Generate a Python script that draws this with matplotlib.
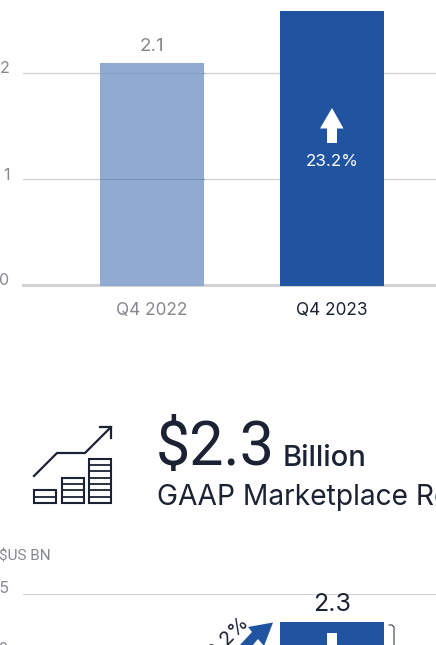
import matplotlib
matplotlib.use("Agg")
import matplotlib.pyplot as plt
from matplotlib.patches import Polygon, Rectangle

W = 436
H = 645

quarters = ["Q4 2022", "Q4 2023"]
revenue_top = [2.095, 2.585]
top_labels = ["2.1", "2.6"]
top_ticks = [0, 1, 2]
growth_label = "23.2%"

revenue_bottom = [2.27]
bottom_ticks = [2.0, 2.5]

BLUE = "#2154a0"
LIGHT = "#91aad2"
NAVY = "#1a2233"
GREY = "#85888d"
GRID = "#d2d3d5"

plt.rcParams["font.family"] = ["Inter", "DejaVu Sans"]

fig = plt.figure(figsize=(W / 100, H / 100), dpi=100)
page = fig.add_axes([0, 0, 1, 1], zorder=5)
page.set_xlim(0, W)
page.set_ylim(H, 0)
page.axis("off")

# top chart
ax = fig.add_axes([23 / W, (H - 285) / H, (W - 23) / W, 285 / H])
ax.set_xlim(-0.7167, 1.578)
ax.set_ylim(0, 285 / 106)
for s in ax.spines.values():
    s.set_visible(False)
ax.set_yticks(top_ticks[1:])
ax.set_yticklabels([])
ax.set_xticks([])
ax.tick_params(length=0)
ax.grid(axis="y", color=GRID, lw=1)
ax.set_axisbelow(True)
ax.axhline(0, color=GRID, lw=2.2, zorder=1, clip_on=False)
ax.bar([0], revenue_top[0] + 0.01, bottom=-0.01, width=0.578, color=LIGHT, zorder=3, clip_on=False)
ax.bar([1], revenue_top[1] + 0.01, bottom=-0.01, width=0.578, color=BLUE, zorder=3, clip_on=False)
# gridlines show through the pale bar
ax.plot([-0.289, 0.289], [1, 1], color="#7b93ba", lw=0.8, zorder=4)
ax.plot([-0.289, 0.289], [2, 2], color="#86a0c8", lw=0.8, zorder=4)
ax.text(0, revenue_top[0] + 0.075, top_labels[0], ha="center", va="bottom", fontsize=13.5, color=GREY)
ax.text(1, revenue_top[1] + 0.075, top_labels[1], ha="center", va="bottom", fontsize=13.5,
        color=GREY, clip_on=False)

for v, y in zip(top_ticks, [280.5, 175, 68.5]):
    page.text(9.5, y, str(v), ha="right", va="center", fontsize=11.5, color=GREY)
page.text(152, 310, quarters[0], ha="center", va="center", fontsize=12.4, color=GREY)
page.text(332, 310, quarters[1], ha="center", va="center", fontsize=12.4, color=NAVY)

# white arrow inside the bar
page.add_patch(Polygon([(332, 108), (343.5, 128.5), (337, 128.5), (337, 143),
                        (327, 143), (327, 128.5), (320, 128.5)], color="white", lw=0))
page.text(332, 162, growth_label, ha="center", va="center", fontsize=12.2, color="white")

# headline
page.text(156, 465, "$2.3", ha="left", va="baseline", fontsize=44, color=NAVY,
          family=["Roboto", "DejaVu Sans"])
page.text(283, 466, "Billion", ha="left", va="baseline", fontsize=21, color=NAVY,
          fontweight="medium")
page.text(157, 505, "GAAP Marketplace Revenue", ha="left", va="baseline", fontsize=20.3,
          color=NAVY)

# icon
page.plot([34, 57, 85, 111], [476, 453, 453, 427], color=NAVY, lw=1.6)
page.plot([100, 111, 111], [427, 427, 438], color=NAVY, lw=1.6)
for x0, x1, ys in [(34, 56, [490, 496.5, 503]),
                   (62, 84, [478, 484, 490, 496.5, 503]),
                   (89, 111, [459, 465, 471, 478, 484, 490, 496.5, 503])]:
    page.add_patch(Rectangle((x0, ys[0]), x1 - x0, ys[-1] - ys[0], fill=False,
                             ec=NAVY, lw=1.5))
    for y in ys[1:-1]:
        page.plot([x0, x1], [y, y], color=NAVY, lw=1.3)

# bottom chart
page.text(-1, 557, "$US BN", ha="left", va="center", fontsize=11, color=GREY,
          family=["Roboto", "DejaVu Sans"])
ax2 = fig.add_axes([23 / W, 0, (W - 23) / W, (H - 593.5) / H])
ax2.set_xlim(-0.7167, 1.578)
ax2.set_ylim(2.5 - 51.5 / 122, 2.5)
for s in ax2.spines.values():
    s.set_visible(False)
ax2.set_xticks([])
ax2.set_yticks([])
ax2.plot([-0.7167, 1.578], [bottom_ticks[1]] * 2, color=GRID, lw=1.6)
ax2.bar([1], revenue_bottom, width=0.578, color=BLUE, zorder=3)
page.text(9.5, 588.5, f"{bottom_ticks[1]:.1f}", ha="right", va="center", fontsize=11.5, color=GREY)
page.text(9.5, 650, f"{bottom_ticks[0]:.1f}", ha="right", va="center", fontsize=11.5, color=GREY)
page.text(332, 604.5, "2.3", ha="center", va="center", fontsize=18, color=NAVY)

page.add_patch(Polygon([(327, 633), (337, 633), (337, 646), (327, 646)], color="white", lw=0))
page.add_patch(Polygon([(273, 622.5), (264, 646), (258, 639), (252, 646), (239, 646),
                        (252, 632), (248, 627)], color=BLUE, lw=0))
page.text(224, 641, growth_label, ha="center", va="center", fontsize=14.5, rotation=45,
          rotation_mode="anchor", color=NAVY)
page.plot([389, 392, 394, 394], [625, 625, 627, 646], color=NAVY, lw=0.7)

fig.savefig("out.png", dpi=100)
